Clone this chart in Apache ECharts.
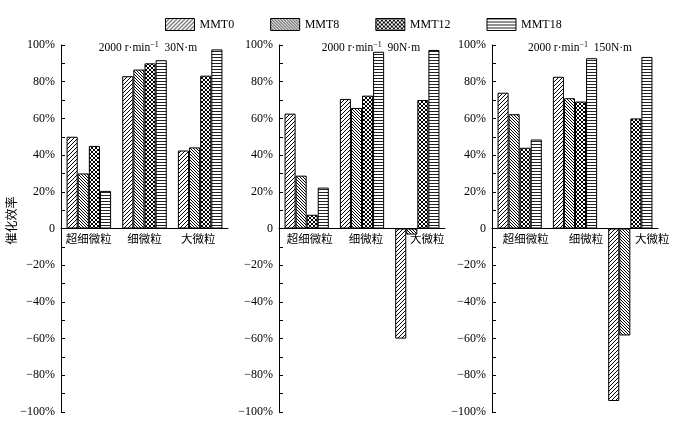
<!DOCTYPE html>
<html>
<head>
<meta charset="utf-8">
<script src="https://cdn.jsdelivr.net/npm/echarts@6/dist/echarts.min.js"></script>
<style>html,body{margin:0;padding:0;background:#fff;}#c{width:681px;height:429px;}</style>
</head>
<body>
<div id="c"></div>
<script>
const categories = ['超细微粒', '细微粒', '大微粒'];
const seriesNames = ['MMT0', 'MMT8', 'MMT12', 'MMT18'];
const torques = ['30', '90', '150'];
const yAxisName = '催化效率';

const p30_MMT0 = [50, 83, 42.5];
const p30_MMT8 = [30, 86.6, 44.2];
const p30_MMT12 = [45, 90, 83.3];
const p30_MMT18 = [20.5, 91.7, 97.6];

const p90_MMT0 = [62.6, 70.6, -60];
const p90_MMT8 = [28.8, 65.7, -3.3];
const p90_MMT12 = [7.5, 72.4, 70];
const p90_MMT18 = [22.3, 96.3, 97.3];

const p150_MMT0 = [74, 82.7, -94];
const p150_MMT8 = [62.3, 71, -58.3];
const p150_MMT12 = [44, 69.2, 60];
const p150_MMT18 = [48.5, 92.8, 93.5];

const panelData = [
  [p30_MMT0, p30_MMT8, p30_MMT12, p30_MMT18],
  [p90_MMT0, p90_MMT8, p90_MMT12, p90_MMT18],
  [p150_MMT0, p150_MMT8, p150_MMT12, p150_MMT18]
];

const FONT = "'Liberation Serif', 'Noto Sans CJK SC', serif";

function makePattern(kind) {
  const s = kind === 'MMT0' ? 4 : 3;
  const size = kind === 'MMT12' ? 4 : s;
  const c = document.createElement('canvas');
  c.width = size; c.height = size;
  const g = c.getContext('2d');
  g.fillStyle = '#fff';
  g.fillRect(0, 0, size, size);
  g.strokeStyle = '#000';
  g.fillStyle = '#222';
  g.lineWidth = 1;
  const fwd = () => {
    g.beginPath();
    g.moveTo(-1, size + 1); g.lineTo(size + 1, -1);
    g.moveTo(-1, 1); g.lineTo(1, -1);
    g.moveTo(size - 1, size + 1); g.lineTo(size + 1, size - 1);
    g.stroke();
  };
  const back = () => {
    g.beginPath();
    g.moveTo(-1, -1); g.lineTo(size + 1, size + 1);
    g.moveTo(size - 1, -1); g.lineTo(size + 1, 1);
    g.moveTo(-1, size - 1); g.lineTo(1, size + 1);
    g.stroke();
  };
  if (kind === 'MMT0') fwd();
  else if (kind === 'MMT8') back();
  else if (kind === 'MMT12') { fwd(); back(); }
  else { g.fillRect(0, 0, size, 1); }
  return { image: c, repeat: 'repeat' };
}

const patterns = seriesNames.map(makePattern);

const grids = [
  { left: 61, width: 167, top: 45, height: 367 },
  { left: 279, width: 166, top: 45, height: 367 },
  { left: 492, width: 166, top: 45, height: 367 }
];
const titleCenters = [143, 366, 575];
const labelShifts = [[0, 0, -4], [6, 8, 20], [12, 22, 44]];

const option = {
  animation: false,
  backgroundColor: '#fff',
  legend: {
    data: seriesNames,
    left: 160, top: 13,
    itemWidth: 29, itemHeight: 12, itemGap: 36,
    icon: 'rect',
    selectedMode: false,
    textStyle: { fontFamily: FONT, fontSize: 12, color: '#000' },
    itemStyle: { borderColor: '#000', borderWidth: 1 }
  },
  title: torques.map((t, i) => ({
    text: '2000 r·min{sup|−1}  ' + t + 'N·m',
    left: titleCenters[i], top: 36, textAlign: 'center',
    textStyle: {
      fontFamily: FONT, fontSize: 11.5, fontWeight: 'normal', color: '#000',
      rich: { sup: { fontFamily: FONT, fontSize: 8, color: '#000', padding: [0, 0, 6, 0] } }
    }
  })),
  grid: grids,
  xAxis: grids.map((g, i) => ({
    type: 'category', gridIndex: i, position: 'bottom',
    offset: -g.height / 2,
    data: categories.map((c, j) => {
      const sh = labelShifts[i][j];
      return { value: c, textStyle: { padding: sh >= 0 ? [0, 0, 0, sh] : [0, -sh, 0, 0] } };
    }),
    axisLine: { onZero: false, lineStyle: { color: '#000', width: 1 } },
    axisTick: { show: false },
    axisLabel: { interval: 0, margin: 6, fontFamily: FONT, fontSize: 11.5, color: '#000' }
  })),
  yAxis: grids.map((g, i) => ({
    type: 'value', gridIndex: i, min: -100, max: 100, interval: 20,
    name: i === 0 ? yAxisName : '',
    nameLocation: 'middle', nameRotate: 90, nameGap: 42,
    nameMoveOverlap: false,
    nameTextStyle: { fontFamily: FONT, fontSize: 12, color: '#000', padding: [0, 0, 0, 16] },
    axisLine: { show: true, lineStyle: { color: '#000', width: 1 } },
    axisTick: { show: true, inside: true, length: 4, lineStyle: { color: '#000' } },
    minorTick: { show: true, splitNumber: 2, length: 4, lineStyle: { color: '#000' } },
    splitLine: { show: false },
    axisLabel: {
      margin: 6, fontFamily: FONT, fontSize: 12, color: '#000',
      formatter: v => v === 0 ? '0' : (v < 0 ? '−' + (-v) + '%' : v + '%')
    }
  })),
  series: []
};

panelData.forEach((arrs, i) => {
  arrs.forEach((vals, k) => {
    option.series.push({
      type: 'bar', name: seriesNames[k],
      xAxisIndex: i, yAxisIndex: i,
      data: vals,
      barGap: '0%', barCategoryGap: '20%',
      itemStyle: { color: patterns[k], borderColor: '#000', borderWidth: 1 }
    });
  });
});

const chart = echarts.init(document.getElementById('c'), null, { renderer: 'canvas' });
chart.setOption(option);
</script>
</body>
</html>
